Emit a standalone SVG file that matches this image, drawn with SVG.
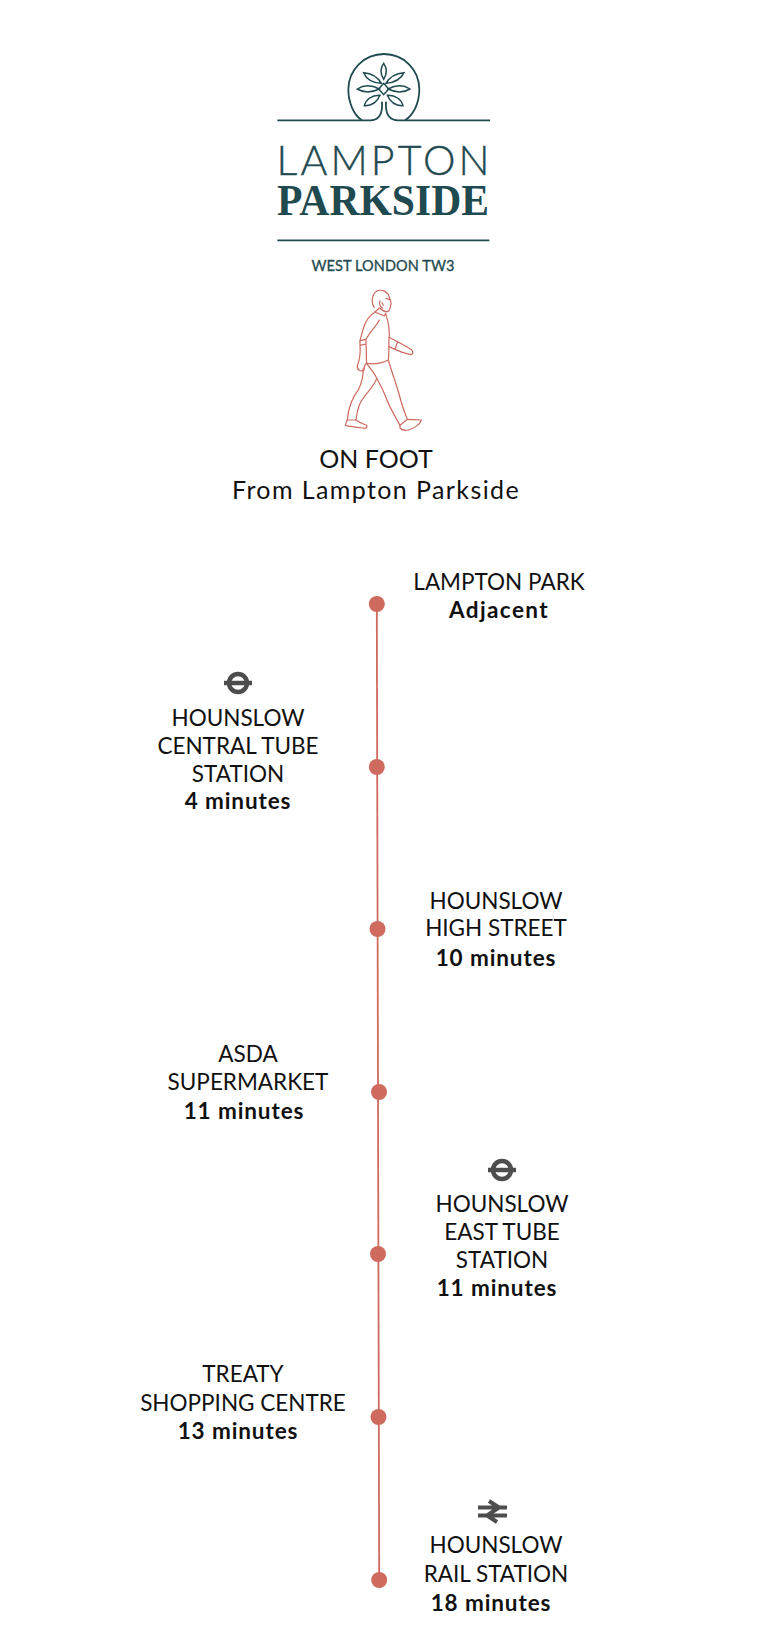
<svg xmlns="http://www.w3.org/2000/svg" width="767" height="1650" viewBox="0 0 767 1650">
<style>
text{font-family:Lato,"Liberation Sans",sans-serif;fill:#111;font-size:22.5px;text-anchor:middle}
.b{font-weight:700;letter-spacing:.9px}
.logo{fill:none;stroke:#1f4a50;stroke-width:5.400}
.leaf{fill:none;stroke:#1f4a50;stroke-width:4.500}
.fig{fill:none;stroke:#cf6a5f;stroke-width:3.600;stroke-linejoin:round;stroke-linecap:round}
.dot{fill:#cf6a5f}
.line{fill:none;stroke:#cf6a5f;stroke-width:1.8}
.icon{fill:none;stroke:#4d4d4d}
</style>
<rect width="767" height="1650" fill="#fff"/>
<g id="logo">
<g transform="translate(260 40) scale(.33333)">
<path class="logo" d="M52 241H330C355 241 369 225 366 185M690 241H415C390 241 375 225 378 185"/>
<path class="logo" d="M305 240C280 225 265 185 265 148C265 89 313 42 372 42C431 42 478 89 478 148C478 190 460 225 435 241"/>
<path class="leaf" d="M371 70C360 85 360 100 371 118C382 100 382 85 371 70Z"/>
<path class="leaf" d="M311 98C318 115 335 128 364 130C354 112 335 100 311 98Z"/>
<path class="leaf" d="M432 98C424 115 407 128 378 130C388 112 407 100 432 98Z"/>
<path class="leaf" d="M292 147C310 135 335 135 358 147C335 158 310 158 292 147Z"/>
<path class="leaf" d="M450 147C432 135 407 135 384 147C407 158 432 158 450 147Z"/>
<path class="leaf" d="M313 197C318 178 335 165 360 166C352 185 335 198 313 197Z"/>
<path class="leaf" d="M429 197C424 178 407 165 382 166C390 185 407 198 429 197Z"/>
<path class="leaf" d="M371 130L386 147L371 164L356 147Z"/>
<path class="logo" d="M52 601H688"/>
</g>
<text x="383" y="175" textLength="213" style="font-size:41px;font-weight:300;fill:#1f4a50;stroke:#1f4a50;stroke-width:.4">LAMPTON</text>
<text x="383" y="215" textLength="212" lengthAdjust="spacingAndGlyphs" style="font-family:'Liberation Serif',serif;font-size:45px;font-weight:700;fill:#1f4a50">PARKSIDE</text>
<text x="383" y="271" textLength="143" style="font-size:14.500px;font-weight:400;fill:#1f4a50;stroke:#1f4a50;stroke-width:.3">WEST LONDON TW3</text>
</g>
<g id="walker" transform="translate(320 280) scale(.33333)">
<path class="fig" d="M163 82C153 70 154 42 172 32C190 27 205 38 208 52C210 60 216 70 212 76C211 84 210 92 202 95C192 95 187 92 180 84"/>
<path class="fig" d="M180 62C177 72 180 80 188 84M186 68L190 76M198 55L212 60"/>
<path class="fig" d="M178 84L165 96L193 108L197 100"/>
<path class="fig" d="M165 96C150 105 137 122 130 145L120 182L138 178C150 155 168 140 178 120"/>
<path class="fig" d="M197 100C205 125 210 155 207 180C206 205 207 225 205 240C185 250 165 254 140 250"/>
<path class="fig" d="M120 182L120 196L138 192L138 178M120 196C122 215 120 235 112 258C110 270 122 276 132 270C134 260 132 252 140 250C138 230 140 210 138 192"/>
<path class="fig" d="M207 172L233 185L225 208L207 200M233 185L268 205C280 210 282 222 272 224C255 220 240 215 225 208"/>
<path class="fig" d="M140 250C150 265 165 280 170 295C160 325 130 345 118 375C110 395 110 410 108 420C95 420 85 420 82 420C85 385 95 355 115 330C125 310 130 290 130 265"/>
<path class="fig" d="M205 240C215 275 228 310 238 345C245 375 255 400 262 418L240 436C225 410 205 375 195 345C185 320 175 305 170 295"/>
<path class="fig" d="M108 420C118 428 130 432 140 436C144 442 138 446 128 444C110 442 92 440 76 436C78 428 80 424 82 420"/>
<path class="fig" d="M262 418C275 420 290 418 304 420C300 435 280 446 265 450C255 452 245 450 240 444L240 436"/>
</g>
<g id="heading">
<text x="376" y="468" style="font-size:25px">ON FOOT</text>
<text x="376" y="499" style="font-size:25px;letter-spacing:1.4px">From Lampton Parkside</text>
</g>
<g transform="translate(0 1)">
<g id="connectors">
<path class="line" d="M376.800 603L379.200 1579"/>
</g>
<g id="n1"><circle class="dot" cx="376.800" cy="603" r="8"/><text x="499" y="589">LAMPTON PARK</text><text class="b" x="499" y="617" style="letter-spacing:1.400px">Adjacent</text></g>
<g id="n2"><circle class="dot" cx="376.800" cy="766" r="8"/>
<g class="icon"><circle cx="238" cy="682" r="9" stroke-width="4.500"/><path d="M224 682H252" stroke-width="4.500"/></g>
<text x="238" y="725">HOUNSLOW</text><text x="238" y="753">CENTRAL TUBE</text><text x="238" y="781">STATION</text><text class="b" x="238" y="808">4 minutes</text></g>
<g id="n3"><circle class="dot" cx="377.500" cy="928" r="8"/><text x="496" y="908">HOUNSLOW</text><text x="496" y="935">HIGH STREET</text><text class="b" x="496" y="965">10 minutes</text></g>
<g id="n4"><circle class="dot" cx="379" cy="1091" r="8"/><text x="248" y="1061">ASDA</text><text x="248" y="1089">SUPERMARKET</text><text class="b" x="244" y="1118">11 minutes</text></g>
<g id="n5"><circle class="dot" cx="378" cy="1253" r="8"/>
<g class="icon"><circle cx="502" cy="1169" r="9" stroke-width="4.500"/><path d="M488 1169H516" stroke-width="4.500"/></g>
<text x="502" y="1211">HOUNSLOW</text><text x="502" y="1239">EAST TUBE</text><text x="502" y="1267">STATION</text><text class="b" x="497" y="1295">11 minutes</text></g>
<g id="n6"><circle class="dot" cx="378.500" cy="1416" r="8"/><text x="243" y="1381">TREATY</text><text x="243" y="1410">SHOPPING CENTRE</text><text class="b" x="238" y="1438">13 minutes</text></g>
<g id="n7"><circle class="dot" cx="379.200" cy="1579" r="8"/>
<g class="icon" stroke-width="4"><path d="M478 1506.500H507M478 1514.500H507M489 1500L499 1506.500L487 1514.500L497 1521"/></g>
<text x="496" y="1552">HOUNSLOW</text><text x="496" y="1581">RAIL STATION</text><text class="b" x="491" y="1610">18 minutes</text></g>
</g>
</svg>
